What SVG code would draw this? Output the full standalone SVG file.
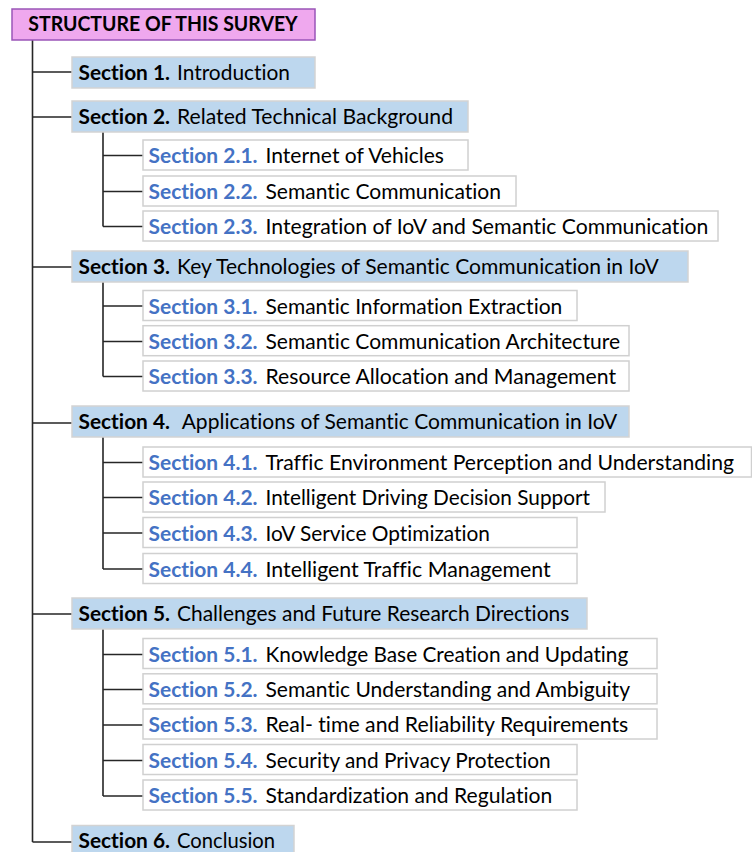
<svg xmlns="http://www.w3.org/2000/svg" width="752" height="852" viewBox="0 0 752 852">
<style>
text{font-family:Lato,"Open Sans","Liberation Sans",sans-serif;font-size:20.6px;fill:#000;font-variant-ligatures:none}
.b{font-weight:bold}
.sb{font-weight:bold;fill:#4472C4}
.title{fill:#EFA8EE;stroke:#9A55B8;stroke-width:1.5}
.sec{fill:#BDD7EE;stroke:#D3D3D3;stroke-width:1.5}
.sub{fill:#FFFFFF;stroke:#D0D0D0;stroke-width:1.5}
.ln{fill:none;stroke:#262626;stroke-width:1.6}
</style>
<rect width="752" height="852" fill="#FFFFFF"/>
<g id="connectors">
<path class="ln" d="M32.5,40 V842 M32.5,72 H72 M32.5,117 H72 M32.5,267 H72 M32.5,423 H72 M32.5,614 H72 M32.5,842 H72"/>
<path class="ln" d="M103,132 V226.5 M103,155.5 H143 M103,191.5 H143 M103,226.5 H143"/>
<path class="ln" d="M103,282 V376.5 M103,306 H143 M103,341.5 H143 M103,376.5 H143"/>
<path class="ln" d="M103,437 V569 M103,462.5 H143 M103,497.5 H143 M103,533 H143 M103,569 H143"/>
<path class="ln" d="M103,629 V796 M103,654.5 H143 M103,689.5 H143 M103,725 H143 M103,760.5 H143 M103,796 H143"/>
</g>
<g id="title">
<rect class="title" x="12" y="9" width="303" height="31"/>
<text class="b" x="28.3" y="31" textLength="269.4" lengthAdjust="spacingAndGlyphs">STRUCTURE OF THIS SURVEY</text>
</g>
<g id="s1">
<rect class="sec" x="72" y="57" width="243" height="31"/>
<text class="b" x="78.5" y="80" textLength="91.5" lengthAdjust="spacingAndGlyphs">Section 1.</text>
<text x="177" y="80" textLength="113" lengthAdjust="spacingAndGlyphs">Introduction</text>
</g>
<g id="s2">
<rect class="sec" x="72" y="101" width="396" height="31"/>
<text class="b" x="78.5" y="124" textLength="91.5" lengthAdjust="spacingAndGlyphs">Section 2.</text>
<text x="177" y="124" textLength="276" lengthAdjust="spacingAndGlyphs">Related Technical Background</text>
</g>
<g id="s2-1">
<rect class="sub" x="143" y="140" width="325" height="30"/>
<text class="sb" x="148.5" y="163" textLength="109" lengthAdjust="spacingAndGlyphs">Section 2.1.</text>
<text x="265.5" y="163" textLength="178.5" lengthAdjust="spacingAndGlyphs">Internet of Vehicles</text>
</g>
<g id="s2-2">
<rect class="sub" x="143" y="176" width="373" height="30"/>
<text class="sb" x="148.5" y="199" textLength="109" lengthAdjust="spacingAndGlyphs">Section 2.2.</text>
<text x="265.5" y="199" textLength="235.5" lengthAdjust="spacingAndGlyphs">Semantic Communication</text>
</g>
<g id="s2-3">
<rect class="sub" x="143" y="211" width="575" height="30"/>
<text class="sb" x="148.5" y="234" textLength="109" lengthAdjust="spacingAndGlyphs">Section 2.3.</text>
<text x="265.5" y="234" textLength="442.8" lengthAdjust="spacingAndGlyphs">Integration of IoV and Semantic Communication</text>
</g>
<g id="s3">
<rect class="sec" x="72" y="251" width="616" height="31"/>
<text class="b" x="78.5" y="274" textLength="91.5" lengthAdjust="spacingAndGlyphs">Section 3.</text>
<text x="177" y="274" textLength="481.7" lengthAdjust="spacingAndGlyphs">Key Technologies of Semantic Communication in IoV</text>
</g>
<g id="s3-1">
<rect class="sub" x="143" y="290.5" width="434" height="30"/>
<text class="sb" x="148.5" y="313.5" textLength="109" lengthAdjust="spacingAndGlyphs">Section 3.1.</text>
<text x="265.5" y="313.5" textLength="296.8" lengthAdjust="spacingAndGlyphs">Semantic Information Extraction</text>
</g>
<g id="s3-2">
<rect class="sub" x="143" y="325.7" width="486" height="30"/>
<text class="sb" x="148.5" y="348.7" textLength="109" lengthAdjust="spacingAndGlyphs">Section 3.2.</text>
<text x="265.5" y="348.7" textLength="354.5" lengthAdjust="spacingAndGlyphs">Semantic Communication Architecture</text>
</g>
<g id="s3-3">
<rect class="sub" x="143" y="361" width="486" height="30"/>
<text class="sb" x="148.5" y="384" textLength="109" lengthAdjust="spacingAndGlyphs">Section 3.3.</text>
<text x="265.5" y="384" textLength="350.5" lengthAdjust="spacingAndGlyphs">Resource Allocation and Management</text>
</g>
<g id="s4">
<rect class="sec" x="72" y="406" width="557" height="31"/>
<text class="b" x="78.5" y="429" textLength="91.5" lengthAdjust="spacingAndGlyphs">Section 4.</text>
<text x="181.7" y="429" textLength="435.6" lengthAdjust="spacingAndGlyphs">Applications of Semantic Communication in IoV</text>
</g>
<g id="s4-1">
<rect class="sub" x="143" y="447" width="608.5" height="30"/>
<text class="sb" x="148.5" y="470" textLength="109" lengthAdjust="spacingAndGlyphs">Section 4.1.</text>
<text x="265.5" y="470" textLength="468.5" lengthAdjust="spacingAndGlyphs">Traffic Environment Perception and Understanding</text>
</g>
<g id="s4-2">
<rect class="sub" x="143" y="482" width="462" height="30"/>
<text class="sb" x="148.5" y="505" textLength="109" lengthAdjust="spacingAndGlyphs">Section 4.2.</text>
<text x="265.5" y="505" textLength="324.5" lengthAdjust="spacingAndGlyphs">Intelligent Driving Decision Support</text>
</g>
<g id="s4-3">
<rect class="sub" x="143" y="517.5" width="434" height="30"/>
<text class="sb" x="148.5" y="540.5" textLength="109" lengthAdjust="spacingAndGlyphs">Section 4.3.</text>
<text x="265.5" y="540.5" textLength="224.5" lengthAdjust="spacingAndGlyphs">IoV Service Optimization</text>
</g>
<g id="s4-4">
<rect class="sub" x="143" y="553.5" width="434" height="30"/>
<text class="sb" x="148.5" y="576.5" textLength="109" lengthAdjust="spacingAndGlyphs">Section 4.4.</text>
<text x="265.5" y="576.5" textLength="285.2" lengthAdjust="spacingAndGlyphs">Intelligent Traffic Management</text>
</g>
<g id="s5">
<rect class="sec" x="72" y="598" width="515" height="31"/>
<text class="b" x="78.5" y="621" textLength="91.5" lengthAdjust="spacingAndGlyphs">Section 5.</text>
<text x="177" y="621" textLength="392.3" lengthAdjust="spacingAndGlyphs">Challenges and Future Research Directions</text>
</g>
<g id="s5-1">
<rect class="sub" x="143" y="638.5" width="514" height="30"/>
<text class="sb" x="148.5" y="661.5" textLength="109" lengthAdjust="spacingAndGlyphs">Section 5.1.</text>
<text x="265.5" y="661.5" textLength="362.8" lengthAdjust="spacingAndGlyphs">Knowledge Base Creation and Updating</text>
</g>
<g id="s5-2">
<rect class="sub" x="143" y="673.8" width="514" height="30"/>
<text class="sb" x="148.5" y="696.8" textLength="109" lengthAdjust="spacingAndGlyphs">Section 5.2.</text>
<text x="265.5" y="696.8" textLength="364.5" lengthAdjust="spacingAndGlyphs">Semantic Understanding and Ambiguity</text>
</g>
<g id="s5-3">
<rect class="sub" x="143" y="709" width="514" height="30"/>
<text class="sb" x="148.5" y="732" textLength="109" lengthAdjust="spacingAndGlyphs">Section 5.3.</text>
<text x="265.5" y="732" textLength="362.8" lengthAdjust="spacingAndGlyphs">Real- time and Reliability Requirements</text>
</g>
<g id="s5-4">
<rect class="sub" x="143" y="744.5" width="434" height="30"/>
<text class="sb" x="148.5" y="767.5" textLength="109" lengthAdjust="spacingAndGlyphs">Section 5.4.</text>
<text x="265.5" y="767.5" textLength="285.2" lengthAdjust="spacingAndGlyphs">Security and Privacy Protection</text>
</g>
<g id="s5-5">
<rect class="sub" x="143" y="780" width="434" height="30"/>
<text class="sb" x="148.5" y="803" textLength="109" lengthAdjust="spacingAndGlyphs">Section 5.5.</text>
<text x="265.5" y="803" textLength="286.8" lengthAdjust="spacingAndGlyphs">Standardization and Regulation</text>
</g>
<g id="s6">
<rect class="sec" x="72" y="825.5" width="222" height="31"/>
<text class="b" x="78.5" y="848" textLength="91.5" lengthAdjust="spacingAndGlyphs">Section 6.</text>
<text x="177" y="848" textLength="98" lengthAdjust="spacingAndGlyphs">Conclusion</text>
</g>
</svg>
